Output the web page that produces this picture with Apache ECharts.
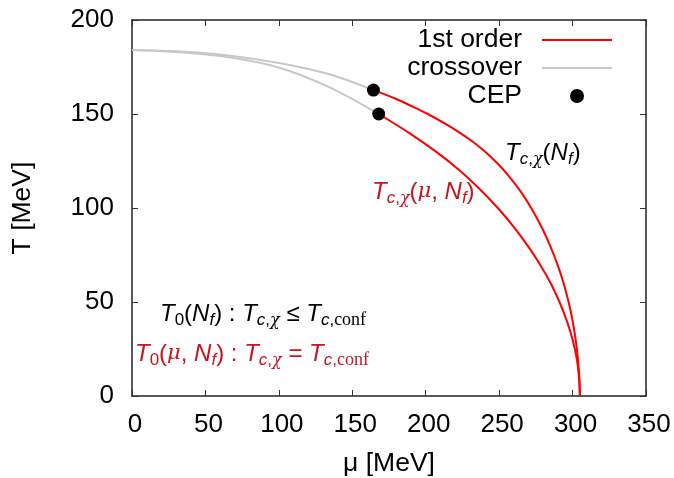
<!DOCTYPE html>
<html>
<head>
<meta charset="utf-8">
<script src="https://cdn.jsdelivr.net/npm/echarts@6/dist/echarts.min.js"></script>
<style>
  html, body { margin: 0; padding: 0; background: #fff; }
  #chart { width: 674px; height: 478px; }
</style>
</head>
<body>
<div id="chart"></div>
<script>
// QCD phase boundary in the (mu, T) plane, both axes in MeV.
const xTicks = [0, 50, 100, 150, 200, 250, 300, 350];
const yTicks = [0, 50, 100, 150, 200];

// crossover branches (mu = 0 up to the critical end point)
const crossOuterMu = [0, 33, 67, 101, 135, 164.4];
const crossOuterT  = [184, 183.2, 181, 177, 171, 162.7];
const crossInnerMu = [0, 33, 67, 101, 135, 168];
const crossInnerT  = [184, 182.8, 180, 174.5, 164, 150];

// first-order branches (critical end point down to T = 0)
const firstOuterMu = [164.4, 179.9, 190.9, 201.4, 212.9, 223.3, 232.5, 240.3, 247.2, 253.3, 263.5, 271.8, 278.8, 284.7, 289.7, 293.9, 297.3, 300, 302.1, 303.6, 304.6, 305];
const firstOuterT  = [162.7, 158, 154, 150, 145, 140, 135, 130, 125, 120, 110, 100, 90, 80, 70, 60, 50, 40, 30, 20, 10, 0];
const firstInnerMu = [168, 188.6, 207, 223.1, 236.9, 249.1, 259.9, 269.4, 277.8, 285.1, 291.1, 296.1, 300, 302.8, 304.4, 305];
const firstInnerT  = [150, 140, 130, 120, 110, 100, 90, 80, 70, 60, 50, 40, 30, 20, 10, 0];

// critical end points
const cepMu = [164.4, 168];
const cepT  = [162.7, 150];

const pairs = (xs, ys) => xs.map((x, i) => [x, ys[i]]);

const RED = '#ff0000';
const GREY = '#c8c8c8';
const NOTE_RED = '#c8141e';
const SANS = '"Liberation Sans", Arial, Helvetica, sans-serif';
const MATH = '"DejaVu Serif", serif';
const ROMAN = '"Liberation Serif", "Times New Roman", serif';

const chart = echarts.init(document.getElementById('chart'), null, { renderer: 'canvas' });

// rich-text styles for the physics annotations
function richStyles(color) {
  const base = { color: color, lineHeight: 30, verticalAlign: 'middle' };
  const sub = { color: color, lineHeight: 16, verticalAlign: 'bottom' };
  return {
    it: Object.assign({ fontFamily: SANS, fontStyle: 'italic', fontSize: 24 }, base),
    up: Object.assign({ fontFamily: SANS, fontSize: 24 }, base),
    gr: Object.assign({ fontFamily: MATH, fontStyle: 'italic', fontSize: 21 }, base),
    si: Object.assign({ fontFamily: SANS, fontStyle: 'italic', fontSize: 17 }, sub),
    su: Object.assign({ fontFamily: SANS, fontSize: 17 }, sub),
    sg: Object.assign({ fontFamily: MATH, fontStyle: 'italic', fontSize: 16 }, sub),
    sr: Object.assign({ fontFamily: ROMAN, fontSize: 18 }, sub)
  };
}

function note(left, top, text, color) {
  return {
    type: 'text',
    left: left,
    top: top,
    z: 20,
    style: { text: text, rich: richStyles(color), fill: color }
  };
}

const tcChi = '{it|T}{si|c}{su|,}{sg|χ}';
const tcConf = '{it|T}{si|c}{su|,}{sr|conf}';

const tickStyle = { show: true, inside: true, length: 6, lineStyle: { color: '#333', width: 1 } };
const frameLine = { show: true, onZero: false, lineStyle: { color: '#222', width: 1.5 } };

const option = {
  backgroundColor: '#fff',
  animation: false,
  textStyle: { fontFamily: SANS },
  grid: { left: 132, right: 28, top: 20, bottom: 82, containLabel: false, outerBoundsMode: 'none' },
  legend: {
    orient: 'vertical',
    align: 'right',
    right: 61,
    top: 26,
    padding: 0,
    itemWidth: 70,
    itemHeight: 14,
    itemGap: 0,
    selectedMode: false,
    textStyle: { fontSize: 26.5, color: '#000', lineHeight: 28, padding: [0, 15, 0, 0], fontFamily: SANS },
    data: [
      { name: '1st order', itemStyle: { opacity: 0 } },
      { name: 'crossover', itemStyle: { opacity: 0 } },
      { name: 'CEP', itemStyle: { color: '#000', opacity: 1 } }
    ]
  },
  xAxis: [
    {
      type: 'value',
      min: xTicks[0], max: xTicks[xTicks.length - 1], interval: 50,
      name: 'μ [MeV]', nameLocation: 'middle', nameGap: 54,
      nameTextStyle: { fontSize: 26.5, color: '#000', fontFamily: SANS },
      axisLine: frameLine,
      axisTick: tickStyle,
      axisLabel: { fontSize: 26, color: '#000', margin: 16, padding: [0, 0, 0, 6], fontFamily: SANS },
      splitLine: { show: false }
    },
    {
      type: 'value', position: 'top',
      min: xTicks[0], max: xTicks[xTicks.length - 1], interval: 50,
      axisLine: frameLine,
      axisTick: tickStyle,
      axisLabel: { show: false },
      splitLine: { show: false }
    }
  ],
  yAxis: [
    {
      type: 'value',
      min: yTicks[0], max: yTicks[yTicks.length - 1], interval: 50,
      name: 'T [MeV]', nameLocation: 'middle', nameGap: 96, nameRotate: 90,
      nameTextStyle: { fontSize: 26.5, color: '#000', fontFamily: SANS },
      axisLine: frameLine,
      axisTick: tickStyle,
      axisLabel: { fontSize: 26, color: '#000', margin: 18, fontFamily: SANS },
      splitLine: { show: false }
    },
    {
      type: 'value', position: 'right',
      min: yTicks[0], max: yTicks[yTicks.length - 1], interval: 50,
      axisLine: frameLine,
      axisTick: tickStyle,
      axisLabel: { show: false },
      splitLine: { show: false }
    }
  ],
  series: [
    {
      name: 'crossover', type: 'line', data: pairs(crossOuterMu, crossOuterT),
      smooth: 0.3, symbol: 'none',
      lineStyle: { color: GREY, width: 2 }, itemStyle: { color: GREY }, z: 2
    },
    {
      name: 'crossover', type: 'line', data: pairs(crossInnerMu, crossInnerT),
      smooth: 0.3, symbol: 'none',
      lineStyle: { color: GREY, width: 2 }, itemStyle: { color: GREY }, z: 2
    },
    {
      name: '1st order', type: 'line', data: pairs(firstOuterMu, firstOuterT),
      smooth: 0.3, symbol: 'none',
      lineStyle: { color: RED, width: 2 }, itemStyle: { color: RED }, z: 3
    },
    {
      name: '1st order', type: 'line', data: pairs(firstInnerMu, firstInnerT),
      smooth: 0.3, symbol: 'none',
      lineStyle: { color: RED, width: 2 }, itemStyle: { color: RED }, z: 3
    },
    {
      name: 'CEP', type: 'scatter', data: pairs(cepMu, cepT),
      symbol: 'circle', symbolSize: 13, itemStyle: { color: '#000', opacity: 1 }, z: 5
    }
  ],
  graphic: [
    note(505, 141, tcChi + '{up|(}{it|N}{si|f}{up|)}', '#000'),
    note(372, 180, tcChi + '{up|(}{gr|μ}{up|, }{it|N}{si|f}{up|)}', NOTE_RED),
    note(160, 302, '{it|T}{su|0}{up|(}{it|N}{si|f}{up|) : }' + tcChi + '{up| ≤ }' + tcConf, '#000'),
    note(135, 342, '{it|T}{su|0}{up|(}{gr|μ}{up|, }{it|N}{si|f}{up|) : }' + tcChi + '{up| = }' + tcConf, NOTE_RED)
  ]
};

chart.setOption(option);
</script>
</body>
</html>
